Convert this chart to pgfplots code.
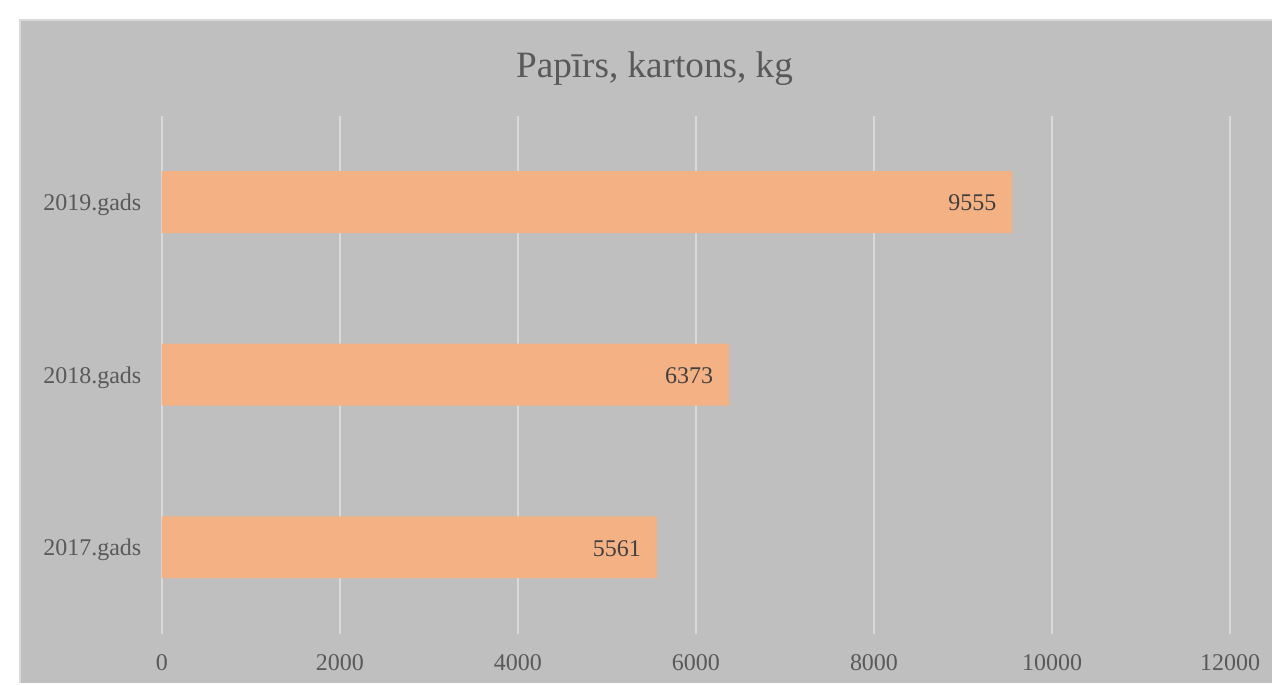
\documentclass[border=0pt]{standalone}
\usepackage{fontspec}
\setmainfont{Liberation Serif}
\usepackage{pgfplots}
\pgfplotsset{compat=1.18}
\definecolor{bg}{HTML}{BFBFBF}
\definecolor{bord}{HTML}{D9D9D9}
\definecolor{barc}{HTML}{F4B183}
\definecolor{txt}{HTML}{595959}
\definecolor{lbl}{HTML}{404040}
\begin{document}
\begin{tikzpicture}[x=1pt,y=1pt]
\fill[white] (0,0) rectangle (636.5,342);
\fill[bg] (9.5,0) rectangle (636.5,332.5);
\draw[bord, line width=1pt] (10,0) -- (10,332) -- (636.5,332);
\node[anchor=base, text=txt, font=\fontsize{18.6}{22}\selectfont, inner sep=0pt] at (327.5,303.3) {Papīrs, kartons, kg};
\begin{axis}[
  at={(81pt,25pt)}, anchor=south west, scale only axis,
  width=534.5pt, height=259pt,
  xmin=0, xmax=12000, ymin=-0.5, ymax=2.5,
  xbar, bar width=31pt,
  axis line style={draw=none}, tick style={draw=none},
  xmajorgrids, major grid style={bord, line width=0.8pt},
  xtick={0,2000,...,12000},
  ytick={0,1,2}, yticklabels={2017.gads,2018.gads,2019.gads},
  scaled x ticks=false,
  /pgf/number format/assume math mode=true,
  /pgf/number format/1000 sep={},
  ticklabel style={font=\fontsize{12}{14}\selectfont, text=txt},
  xticklabel style={anchor=center, yshift=-14.5pt},
  yticklabel style={anchor=east, xshift=-2.5pt, yshift=-1.5pt},
  nodes near coords,
  every node near coord/.append style={anchor=east, xshift=-4.5pt, yshift=-0.5pt, text=lbl, font=\fontsize{12}{14}\selectfont},
  clip=false,
]
\addplot[draw=none, fill=barc] coordinates {(5561,0) (6373,1) (9555,2)};
\end{axis}
\end{tikzpicture}
\end{document}
